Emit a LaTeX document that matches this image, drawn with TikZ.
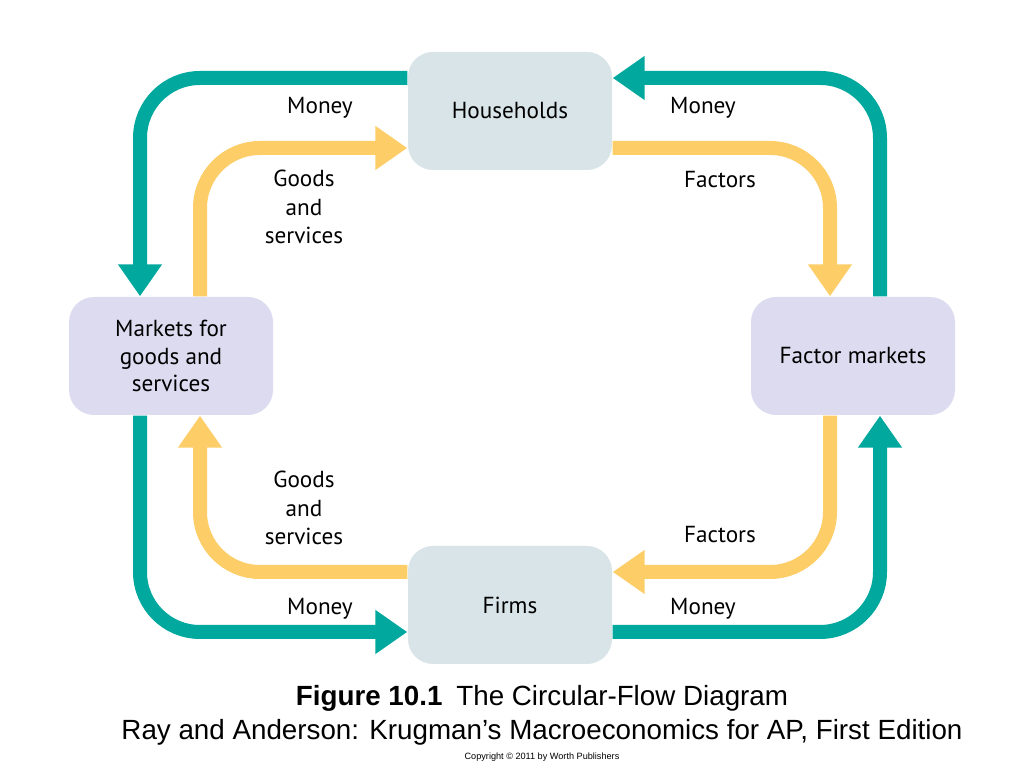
\documentclass[tikz,border=0pt]{standalone}
\usepackage{fontspec}
\setmainfont{PT Sans}
\newfontfamily\capfont{Liberation Sans}
\usetikzlibrary{arrows.meta, positioning}
\definecolor{flowteal}{RGB}{0,168,158}
\definecolor{flowgold}{RGB}{253,206,104}
\definecolor{hhblue}{RGB}{216,228,231}
\definecolor{mklav}{RGB}{221,219,240}
\tikzset{
  box/.style={rounded corners=2.5mm, minimum width=2.04cm, minimum height=1.18cm, align=center, font=\fontsize{6.6}{7.8}\selectfont},
  money/.style={draw=flowteal, line width=1.4mm, rounded corners=6mm, -{Triangle[width=4.2mm,length=3.2mm]}},
  goods/.style={draw=flowgold, line width=1.4mm, rounded corners=6mm, -{Triangle[width=4.2mm,length=3.2mm]}},
  lbl/.style={align=center, font=\fontsize{6.6}{8}\selectfont}
}
\begin{document}
\begin{tikzpicture}
  \useasboundingbox[fill=white] (0,0) rectangle (10.24,7.68);

  % boxes
  \node[box, fill=hhblue] (hh) at (5.10,6.57) {Households};
  \node[box, fill=mklav] (mk) at (1.71,4.12) {Markets for\\goods and\\services};
  \node[box, fill=mklav] (fm) at (8.53,4.12) {Factor markets};
  \node[box, fill=hhblue] (fi) at (5.10,1.63) {Firms};

  % money flows
  \draw[money] ([yshift=3.3mm]hh.west) -| ([xshift=-3.1mm]mk.north);
  \draw[money] ([xshift=2.7mm]fm.north) |- ([yshift=3.3mm]hh.east);
  \draw[money] ([xshift=-3.1mm]mk.south) |- ([yshift=-2.7mm]fi.west);
  \draw[money] ([yshift=-2.7mm]fi.east) -| ([xshift=2.7mm]fm.south);

  % goods and factor flows
  \draw[goods] ([xshift=2.9mm]mk.north) |- ([yshift=-3.7mm]hh.west);
  \draw[goods] ([yshift=-3.7mm]hh.east) -| ([xshift=-2.3mm]fm.north);
  \draw[goods] ([xshift=-2.3mm]fm.south) |- ([yshift=3.3mm]fi.east);
  \draw[goods] ([yshift=3.3mm]fi.west) -| ([xshift=2.9mm]mk.south);

  % labels
  \node[lbl] (m1) at (3.20,6.60) {Money};
  \node[lbl] (m2) at (7.03,6.60) {Money};
  \node[lbl] (g1) at (3.04,5.61) {Goods\\and\\services};
  \node[lbl] (f1) at (7.20,5.88) {Factors};
  \node[lbl] (g2) at (3.04,2.60) {Goods\\and\\services};
  \node[lbl] (f2) at (7.20,2.33) {Factors};
  \node[lbl] (m3) at (3.20,1.59) {Money};
  \node[lbl] (m4) at (7.03,1.59) {Money};

  % caption
  \node[font=\capfont\fontsize{7.9}{9}\selectfont] (cap1) at (5.42,0.70) {\textbf{Figure 10.1}\enspace The Circular-Flow Diagram};
  \node[font=\capfont\fontsize{7.9}{9}\selectfont] (cap2) at (5.42,0.36) {Ray and Anderson: Krugman’s Macroeconomics for AP, First Edition};
  \node[font=\capfont\fontsize{2.6}{3}\selectfont] (cap3) at (5.42,0.11) {Copyright © 2011 by Worth Publishers};
\end{tikzpicture}
\end{document}
